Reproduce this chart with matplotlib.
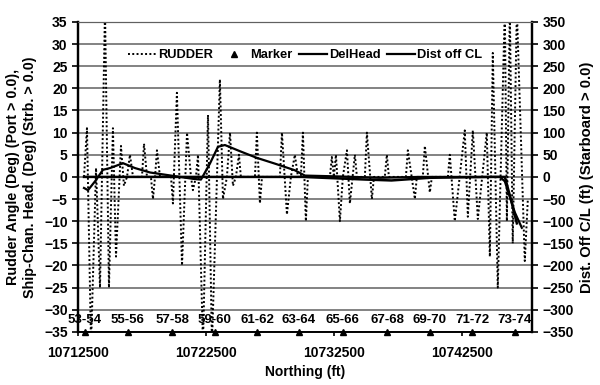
import numpy as np
import matplotlib
matplotlib.use('Agg')
import matplotlib.pyplot as plt
from matplotlib.lines import Line2D

plt.rcParams['font.family'] = ['Liberation Sans', 'DejaVu Sans']
plt.rcParams['font.weight'] = 'bold'

# Rudder angle (deg)
rudder_n = [10712970, 10713200, 10713520, 10713910, 10714220, 10714610, 10714920,
            10715230, 10715470, 10715860, 10716090, 10716330, 10716560, 10716800,
            10717500, 10717660, 10717890, 10718200, 10718360, 10718520, 10718670,
            10718910, 10719770, 10719920, 10720230, 10720630, 10721020, 10721330,
            10721480, 10721720, 10721880, 10722270, 10722660, 10722970, 10723590,
            10723830, 10724140, 10724380, 10724610, 10724840, 10725080, 10725230,
            10726330, 10726480, 10726720, 10726880, 10728280, 10728440, 10728830,
            10729140, 10729450, 10729690, 10729920, 10730080, 10730310, 10730470,
            10732190, 10732340, 10732500, 10732660, 10732970, 10733200, 10733520,
            10733750, 10734140, 10734300, 10734920, 10735080, 10735470, 10735630,
            10736480, 10736640, 10736800, 10738130, 10738280, 10738830, 10738980,
            10739450, 10739610, 10740000, 10740160, 10741410, 10741560, 10741950,
            10742730, 10742970, 10743360, 10743750, 10744450, 10744690, 10744920,
            10745310, 10745860, 10746020, 10746250, 10746480, 10746800, 10747420,
            10747660]
rudder = [0, 11, -38, 2, -25, 38, -25,
          11, -18, 7, -2, 0, 5, 0,
          0, 7.5, 0, 0, -5, 0, 6,
          0, 0, -6, 19, -20, 10, 0,
          -3, 0, 5, -38, 14, -38, 22,
          -5, 0, 10, -2, 0, 5, 0,
          0, 10, -6, 0, 0, 10, -8.5,
          0, 5, 0, 0, 10, -10, 0,
          0, 4.5, 0, 5, -10, 0, 6,
          -6, 5, 0, 0, 10, -5, 0,
          0, 5, 0, 0, 6, -5, 0,
          0, 7, -3.5, 0, 0, 5, -10,
          10.5, -9, 10.5, -9.5, 10, -18, 28,
          -25, 38, -10, 38, -15, 38, -19,
          -5]

# Change in ship-channel heading (deg)
head_n = [10712970, 10713280, 10713830, 10714450, 10715000, 10715470, 10716020,
          10716950, 10718130, 10719300, 10720470, 10721640, 10722110, 10722810,
          10723440, 10723980, 10725160, 10726480, 10727890, 10729450, 10730230,
          10732970, 10736090, 10739220, 10743130, 10745470, 10745860, 10746640,
          10747190]
delhead = [-2.5, -3, -1, 1.6, 2, 2.5, 3.1,
           2, 1, 0.5, 0, -0.5, -0.6, 3,
           6.8, 7.2, 5.8, 4.3, 3, 1.5, 0.3,
           0.1, -0.2, 0, 0, 0, -1, -8,
           -11.5]

# Distance off centerline (ft)
dist_n = [10712970, 10720000, 10730000, 10735000, 10737000, 10740000,
          10745000, 10745860, 10746330, 10746800]
dist = [0, 0, 0, -6, -8, -2, 0, 0, -50, -105]

# Segment markers
marker_n = [10713050, 10716400, 10719850, 10723200, 10726500, 10729750,
            10733200, 10736650, 10740000, 10743300, 10746650]
marker_lbl = ['53-54', '55-56', '57-58', '59-60', '61-62', '63-64',
              '65-66', '67-68', '69-70', '71-72', '73-74']

fig = plt.figure(figsize=(6, 3.85), dpi=100)
ax1 = fig.add_axes([0.13, 0.138, 0.757, 0.805])
ax2 = ax1.twinx()

for v in np.arange(-35, 36, 5):
    ax1.axhline(v, color='#606060', lw=1.1, zorder=1)

ax1.plot(rudder_n, rudder, color='black', ls=(0, (1, 1.2)), lw=1.4, zorder=3)
ax1.plot(head_n, delhead, color='black', lw=1.6, zorder=4)
ax2.plot(dist_n, dist, color='black', lw=1.8, zorder=4)
ax1.plot(marker_n, [-35] * len(marker_n), ls='none', marker='^', ms=5,
         color='black', clip_on=False, zorder=5)
for n, s in zip(marker_n, marker_lbl):
    ax1.text(n, -32.4, s, ha='center', va='center', fontsize=9.5, zorder=6)

ax1.set_xlim(10712500, 10748000)
ax1.set_ylim(-35, 35)
ax2.set_ylim(-350, 350)
ax1.set_yticks(np.arange(-35, 36, 5))
ax2.set_yticks(np.arange(-350, 351, 50))
ax1.set_xticks([10712500, 10722500, 10732500, 10742500])
ax1.set_xticklabels(['10712500', '10722500', '10732500', '10742500'])

for a in (ax1, ax2):
    a.tick_params(labelsize=10, width=1.2, length=4)
    a.spines['top'].set_color('#606060')
    a.spines['left'].set_linewidth(1.6)
    a.spines['right'].set_linewidth(1.6)
    a.spines['bottom'].set_linewidth(1.2)
ax1.tick_params(axis='x', pad=7, length=3)

ax1.set_ylabel('Rudder Angle (Deg) (Port > 0.0),\nShip-Chan. Head. (Deg) (Strb. > 0.0)',
               fontsize=10.3, fontweight='bold', labelpad=5, linespacing=1.25)
ax2.set_ylabel('Dist. Off C/L (ft) (Starboard > 0.0)', fontsize=10.7,
               fontweight='bold', labelpad=4)
ax1.set_xlabel('Northing (ft)', fontsize=10, fontweight='bold', labelpad=4)

handles = [Line2D([], [], color='black', ls=(0, (1, 1.2)), lw=1.4),
           Line2D([], [], color='black', ls='none', marker='^', ms=5),
           Line2D([], [], color='black', lw=1.6),
           Line2D([], [], color='black', lw=1.6)]
ax1.legend(handles, ['RUDDER', 'Marker', 'DelHead', 'Dist off CL'],
           loc='center', bbox_to_anchor=(0.5, 0.893), ncol=4, frameon=False,
           fontsize=9.3, handlelength=2.2, columnspacing=0.5, handletextpad=0.15)

fig.savefig('out.png', dpi=100)
